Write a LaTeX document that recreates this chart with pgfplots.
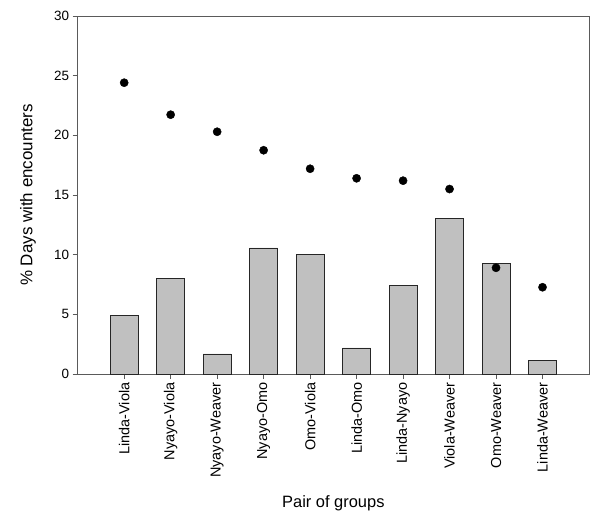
\documentclass[border=0pt]{standalone}
\usepackage{pgfplots}
\pgfplotsset{compat=1.18}
\usepackage{fontspec}
\setmainfont{Liberation Sans}
\definecolor{barfill}{RGB}{192,192,192}
\definecolor{axgray}{RGB}{90,90,90}
\begin{document}
\begin{tikzpicture}
\path[use as bounding box] (-77.7bp,-151bp) rectangle (522.3bp,374bp);
\begin{axis}[
  at={(0,0)}, anchor=south west,
  scale only axis,
  width=511.3bp, height=358bp,
  xmin=-1, xmax=10, ymin=0, ymax=30,
  xtick={0,...,9},
  xticklabels={Linda-Viola,Nyayo-Viola,Nyayo-Weaver,Nyayo-Omo,Omo-Viola,Linda-Omo,Linda-Nyayo,Viola-Weaver,Omo-Weaver,Linda-Weaver},
  ytick={0,5,...,30},
  tick align=outside, xtick pos=bottom, ytick pos=left,
  major tick length=5bp,
  tick style={axgray, line width=0.8bp},
  axis line style={axgray, line width=0.9bp},
  /pgf/number format/assume math mode=true,
  xticklabel style={rotate=90, anchor=east, font=\fontsize{14.5}{16}\selectfont},
  yticklabel style={font=\fontsize{13.5}{16}\selectfont},
  xlabel={Pair of groups},
  ylabel={\% Days with encounters},
  every axis x label/.style={at={(axis description cs:0.5,-0.3715)}, anchor=base, font=\fontsize{16.5}{18}\selectfont},
  every axis y label/.style={at={(axis description cs:-0.0972,0.5)}, rotate=90, anchor=center, font=\fontsize{17}{18}\selectfont},
]
\addplot[ybar, bar width=28bp, fill=barfill, draw=black!85, line width=0.9bp] coordinates {
(0,4.92) (1,8.02) (2,1.68) (3,10.56) (4,10.0) (5,2.18) (6,7.4) (7,13.05) (8,9.25) (9,1.15)};
\addplot[only marks, mark=*, mark size=4.1bp, mark options={fill=black, draw=black}] coordinates {
(0,24.41) (1,21.73) (2,20.3) (3,18.75) (4,17.2) (5,16.4) (6,16.2) (7,15.5) (8,8.9) (9,7.27)};
\end{axis}
\end{tikzpicture}
\end{document}
